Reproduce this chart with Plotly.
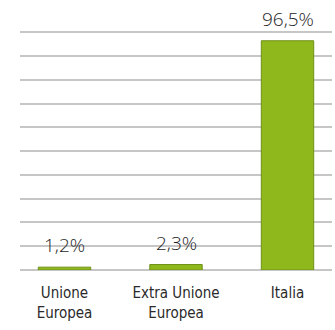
import plotly.graph_objects as go

# Share of total by origin (percent)
categories = ["Unione<br>Europea", "Extra Unione<br>Europea", "Italia"]
values = [1.2, 2.3, 96.5]
value_labels = ["1,2%", "2,3%", "96,5%"]

bar_fill = "#8fb81c"
bar_edge = "#6e9119"
grid_color = "#c6c6c6"
text_color = "#2a2a2a"

fig = go.Figure()
fig.add_trace(go.Bar(
    x=categories,
    y=values,
    width=0.47,
    marker=dict(color=bar_fill, line=dict(color=bar_edge, width=1)),
    hoverinfo="skip",
))

# Value labels above each bar
for cat, val, lab in zip(categories, values, value_labels):
    fig.add_annotation(
        x=cat, y=val, text=lab, showarrow=False,
        xref="x", yref="y", yanchor="bottom", yshift=7,
        font=dict(family="Open Sans", size=19, color="#1e1e1e", weight=300),
    )

fig.update_layout(
    width=335, height=330,
    margin=dict(l=20, r=3, t=31, b=60),
    paper_bgcolor="white", plot_bgcolor="white",
    showlegend=False,
    xaxis=dict(
        range=[-0.399, 2.399],
        showgrid=False, showline=False, zeroline=False, ticks="",
        tickfont=dict(family="DejaVu Sans Condensed", size=15, color=text_color),
        ticklabelstandoff=12,
        fixedrange=True,
    ),
    yaxis=dict(
        range=[0, 100.6], dtick=10,
        showgrid=True, gridcolor=grid_color, gridwidth=1.5,
        zeroline=True, zerolinecolor=grid_color, zerolinewidth=1.5,
        showticklabels=False, ticks="", showline=False,
        fixedrange=True,
    ),
)

fig.write_html("out.html")
